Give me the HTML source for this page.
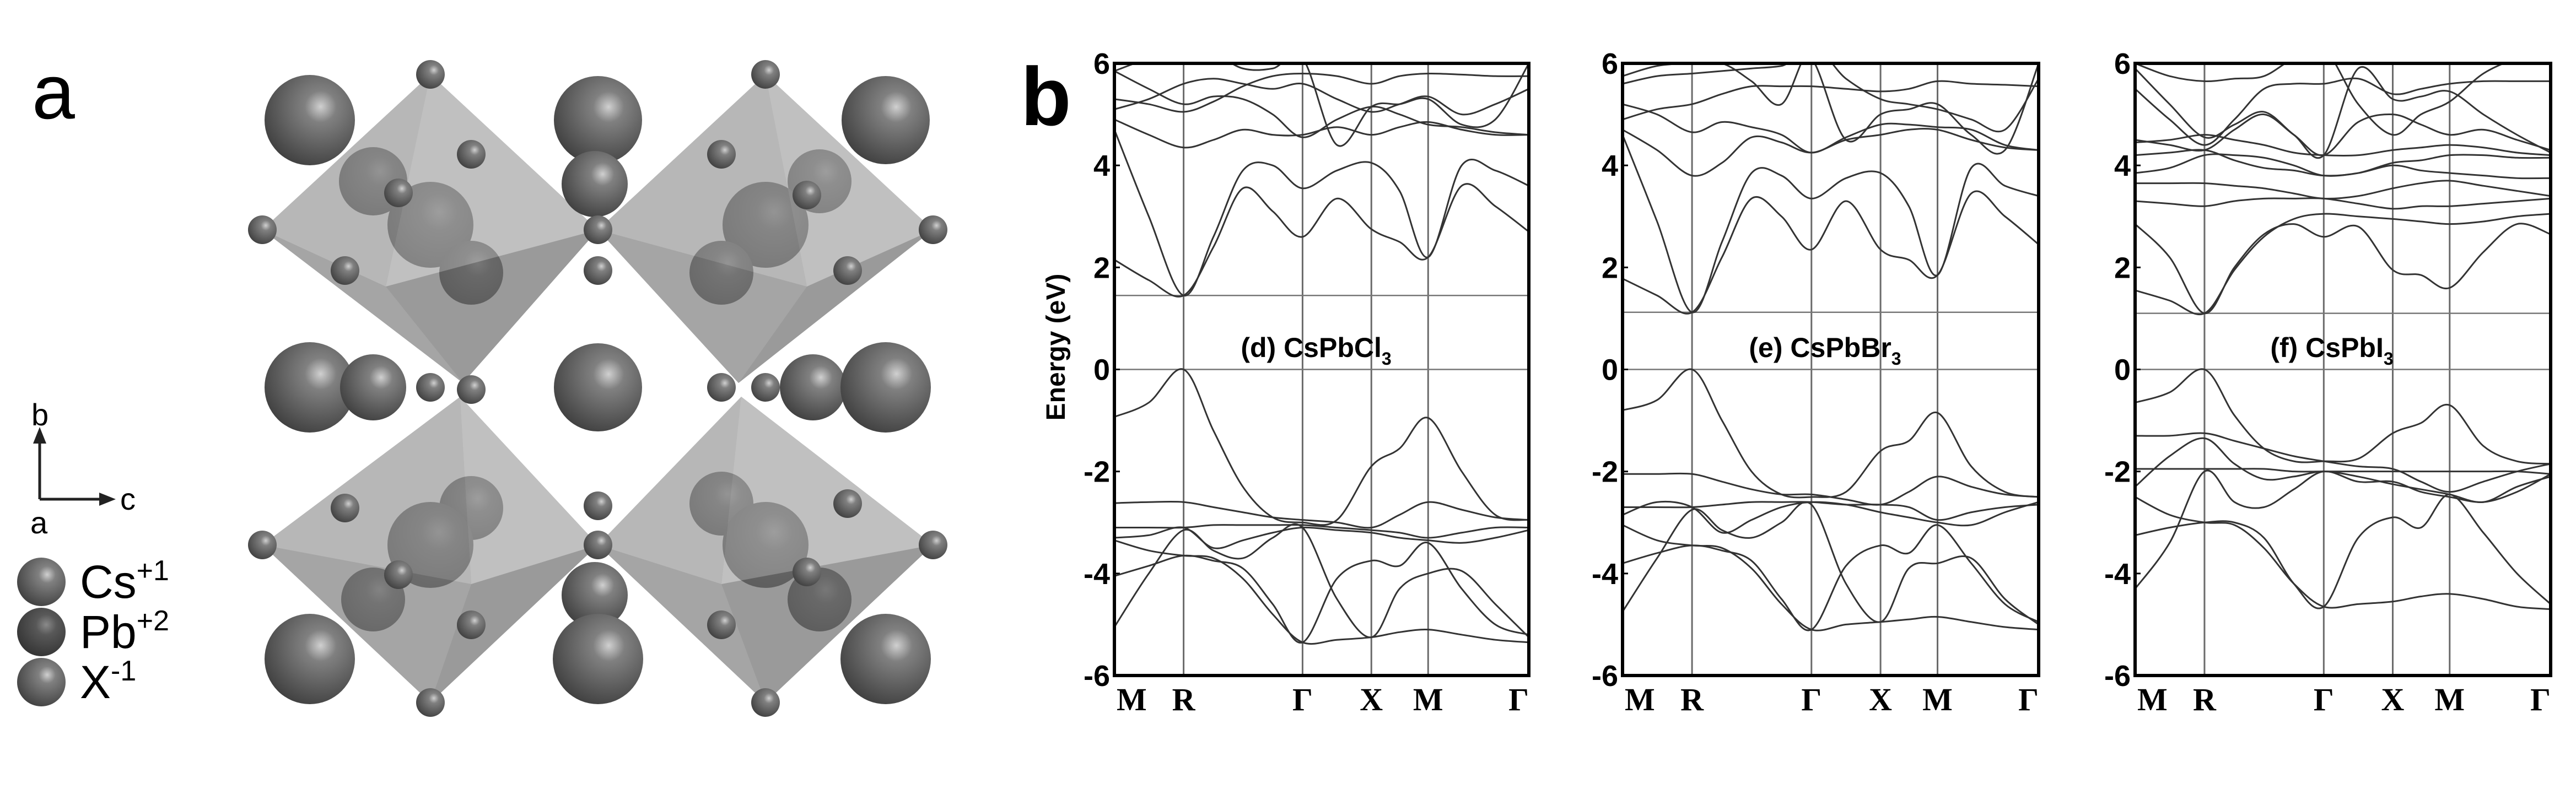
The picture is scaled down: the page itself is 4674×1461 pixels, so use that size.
<!DOCTYPE html>
<html><head><meta charset="utf-8"><style>
html,body{margin:0;padding:0;background:#fff;width:4674px;height:1461px;overflow:hidden}
svg{display:block}
.tick{font-family:"Liberation Sans",Arial,sans-serif;font-weight:bold;font-size:54px;fill:#000}
.kl{font-family:"Liberation Serif",serif;font-weight:bold;font-size:58px;fill:#000}
.pl{font-family:"Liberation Sans",Arial,sans-serif;font-weight:bold;font-size:50px;fill:#000}
</style></head><body>
<svg id="fig" width="4674" height="1461" viewBox="0 0 4674 1461" xmlns="http://www.w3.org/2000/svg">
<defs>
<radialGradient id="sph" cx="0.62" cy="0.35" r="0.7"><stop offset="0" stop-color="#d0d0d0"/><stop offset="0.25" stop-color="#808080"/><stop offset="1" stop-color="#404040"/></radialGradient>
<radialGradient id="sphd" cx="0.6" cy="0.35" r="0.7"><stop offset="0" stop-color="#8a8a8a"/><stop offset="0.3" stop-color="#585858"/><stop offset="1" stop-color="#333"/></radialGradient>
</defs>
<g id="structure"></g>
<text x="58" y="215" style="font-family:'Liberation Sans',sans-serif;font-size:140px">a</text>
<g stroke="#222" stroke-width="5" fill="#222">
<line x1="72" y1="906" x2="72" y2="800"/><polygon points="60,805 84,805 72,775" stroke="none"/>
<line x1="72" y1="906" x2="185" y2="906"/><polygon points="180,894 180,918 210,906" stroke="none"/>
</g>
<text x="57" y="772" style="font-family:'Liberation Sans',sans-serif;font-size:56px">b</text>
<text x="218" y="925" style="font-family:'Liberation Sans',sans-serif;font-size:56px">c</text>
<text x="55" y="968" style="font-family:'Liberation Sans',sans-serif;font-size:56px">a</text>
<g>
<circle cx="75" cy="1056" r="44" fill="url(#sph)"/><circle cx="75" cy="1147" r="44" fill="url(#sphd)"/><circle cx="75" cy="1238" r="44" fill="url(#sph)"/>
<text x="145" y="1085" style="font-family:'Liberation Sans',sans-serif;font-size:84px">Cs<tspan font-size="52" dy="-32">+1</tspan></text>
<text x="145" y="1176" style="font-family:'Liberation Sans',sans-serif;font-size:84px">Pb<tspan font-size="52" dy="-32">+2</tspan></text>
<text x="145" y="1267" style="font-family:'Liberation Sans',sans-serif;font-size:84px">X<tspan font-size="52" dy="-32">-1</tspan></text>
</g>
<text x="1852" y="227" style="font-family:'Liberation Sans',sans-serif;font-weight:bold;font-size:150px">b</text>
<text transform="translate(1932,630) rotate(-90)" text-anchor="middle" style="font-family:'Liberation Sans',sans-serif;font-weight:bold;font-size:48px">Energy (eV)</text>
<g id="charts"></g>
</svg>
<script>
// ---------- chart data ----------
var kLabels = ["M","R","Γ","X","M","Γ"];
var kTicks = [0, 0.167, 0.454, 0.62, 0.757, 1];
var kSamples = [0, 0.083, 0.167, 0.239, 0.31, 0.382, 0.454, 0.537, 0.62, 0.688, 0.757, 0.838, 0.919, 1];
var yTicks = [6, 4, 2, 0, -2, -4, -6];
var panelTitles = ["(d) CsPbCl", "(e) CsPbBr", "(f) CsPbI"];
var gapValues = [1.45, 1.12, 1.1];

var bandsD = [
[-0.93,-0.65,0,-1.2,-2.3,-2.9,-3.0,-2.95,-1.9,-1.55,-0.95,-2.0,-2.85,-2.95],
[-2.62,-2.6,-2.6,-2.7,-2.8,-2.9,-2.95,-3.0,-3.1,-2.85,-2.6,-2.75,-2.9,-2.95],
[-3.1,-3.1,-3.1,-3.05,-3.05,-3.05,-3.05,-3.1,-3.15,-3.2,-3.3,-3.2,-3.1,-3.1],
[-3.3,-3.25,-3.1,-3.5,-3.35,-3.2,-3.1,-3.15,-3.2,-3.3,-3.35,-3.4,-3.3,-3.15],
[-3.35,-3.55,-3.65,-3.7,-4.1,-4.8,-5.35,-5.3,-5.25,-5.15,-5.1,-5.2,-5.3,-5.35],
[-4.05,-3.85,-3.65,-3.75,-3.9,-4.6,-5.35,-4.1,-3.75,-3.85,-3.4,-4.3,-5.0,-5.2],
[-5.05,-4.0,-3.15,-3.55,-3.7,-3.3,-3.1,-4.5,-5.25,-4.3,-4.0,-3.95,-4.6,-5.25],
[2.15,1.75,1.45,2.4,3.55,3.1,2.6,3.35,2.75,2.5,2.2,3.6,3.2,2.7],
[4.7,3.0,1.45,2.6,3.9,4.0,3.55,3.9,4.05,3.5,2.2,4.0,3.9,3.6],
[4.9,4.6,4.35,4.5,4.7,4.6,4.6,4.75,4.6,4.75,4.85,4.7,4.6,4.6],
[5.3,5.2,5.05,5.25,5.55,5.75,5.8,5.75,5.6,5.75,5.8,5.78,5.75,5.75],
[5.85,5.5,5.2,5.35,5.3,5.0,4.55,4.9,5.15,5.0,4.8,4.75,4.65,4.6],
[5.85,6.1,6.3,6.2,5.9,5.9,6.1,4.4,5.15,5.2,5.3,4.8,4.9,6.0],
[5.1,5.3,5.6,5.7,5.6,5.5,5.6,5.3,5.05,5.2,5.35,5.0,5.2,5.5]
];
var bandsE = [
[-0.8,-0.6,0,-1.0,-2.0,-2.45,-2.5,-2.4,-1.6,-1.4,-0.85,-1.9,-2.4,-2.5],
[-2.05,-2.05,-2.05,-2.2,-2.35,-2.45,-2.45,-2.55,-2.65,-2.4,-2.1,-2.3,-2.45,-2.5],
[-2.7,-2.7,-2.7,-2.65,-2.6,-2.6,-2.6,-2.65,-2.65,-2.7,-2.95,-2.8,-2.7,-2.65],
[-2.85,-2.6,-2.7,-3.2,-2.95,-2.7,-2.6,-2.65,-2.8,-2.9,-3.0,-3.05,-2.8,-2.6],
[-3.05,-3.35,-3.45,-3.5,-3.9,-4.6,-5.1,-5.0,-4.95,-4.9,-4.85,-4.95,-5.05,-5.1],
[-3.8,-3.6,-3.45,-3.55,-3.75,-4.5,-5.1,-3.85,-3.45,-3.6,-3.05,-3.8,-4.6,-4.95],
[-4.75,-3.7,-2.75,-3.15,-3.3,-3.0,-2.65,-4.2,-4.95,-3.9,-3.8,-3.7,-4.5,-5.0],
[1.78,1.45,1.12,2.2,3.35,3.0,2.35,3.3,2.35,2.15,1.85,3.45,3.0,2.45],
[4.6,2.9,1.12,2.5,3.85,3.8,3.35,3.75,3.85,3.2,1.85,3.95,3.6,3.4],
[4.7,4.3,3.8,4.05,4.55,4.45,4.25,4.5,4.6,4.7,4.7,4.5,4.35,4.3],
[5.2,5.0,4.65,4.85,4.75,4.6,4.25,4.55,4.8,4.8,4.75,4.7,4.4,4.3],
[4.9,5.1,5.2,5.4,5.55,5.55,5.55,5.5,5.45,5.5,5.65,5.6,5.58,5.55],
[5.6,5.75,5.8,5.85,5.9,5.95,6.1,4.5,5.0,5.1,5.2,4.6,4.3,6.0],
[5.75,5.95,6.0,6.0,5.65,5.2,6.3,5.7,5.3,5.2,5.1,4.9,4.7,5.7]
];
var bandsF = [
[-0.65,-0.45,0,-0.9,-1.55,-1.8,-1.8,-1.75,-1.25,-1.05,-0.7,-1.5,-1.8,-1.85],
[-1.3,-1.3,-1.25,-1.4,-1.55,-1.7,-1.8,-1.9,-1.95,-2.2,-2.4,-2.2,-2.0,-1.85],
[-1.95,-1.95,-1.95,-1.95,-1.95,-2.0,-2.0,-2.0,-2.0,-2.0,-2.0,-2.0,-2.0,-2.05],
[-2.3,-1.7,-1.35,-1.85,-2.15,-2.1,-2.0,-2.1,-2.25,-2.35,-2.45,-2.6,-2.3,-2.1],
[-2.5,-2.85,-3.0,-3.05,-3.5,-4.2,-4.65,-4.6,-4.55,-4.45,-4.4,-4.5,-4.65,-4.7],
[-3.25,-3.1,-3.0,-3.0,-3.3,-4.2,-4.65,-3.3,-2.9,-3.1,-2.45,-3.2,-4.0,-4.6],
[-4.3,-3.4,-2.0,-2.6,-2.7,-2.35,-2.0,-2.2,-2.2,-2.4,-2.5,-2.6,-2.4,-2.05],
[1.55,1.35,1.1,1.95,2.6,2.95,3.05,3.0,2.95,2.9,2.85,2.9,3.0,3.05],
[2.85,2.2,1.1,2.0,2.65,2.85,2.6,2.8,1.95,1.85,1.6,2.3,2.85,2.65],
[3.3,3.25,3.2,3.3,3.35,3.35,3.35,3.25,3.15,3.2,3.2,3.25,3.3,3.35],
[3.65,3.65,3.65,3.6,3.55,3.45,3.35,3.4,3.55,3.65,3.7,3.6,3.5,3.4],
[3.85,3.95,4.2,4.2,4.15,4.0,3.8,3.85,4.0,3.9,3.85,3.8,3.75,3.75],
[4.2,4.25,4.3,4.1,3.95,3.9,3.8,3.85,4.05,4.1,4.2,4.2,4.15,4.15],
[4.45,4.5,4.6,4.5,4.4,4.25,4.2,4.2,4.3,4.35,4.4,4.35,4.25,4.2],
[4.5,4.4,4.3,4.7,5.0,4.6,4.2,4.85,5.0,4.8,4.6,4.7,4.5,4.3],
[5.5,4.9,4.4,4.9,5.5,5.6,5.6,5.7,5.4,5.5,5.6,5.65,5.65,5.65],
[5.9,5.2,4.55,4.8,5.05,4.6,4.2,5.9,5.3,5.35,5.45,5.0,4.6,4.25],
[6.0,5.75,5.65,5.7,5.75,6.1,6.3,5.2,4.6,5.0,5.25,5.8,6.1,6.3]
];
var allBands = [bandsD, bandsE, bandsF];

// ---------- layout ----------
var NS = "http://www.w3.org/2000/svg";
var frames = [{l:2022,r:2774},{l:2944,r:3699},{l:3874,r:4628}];
var TOP = 115, BOT = 1226, EMAX = 6, EMIN = -6;
function mk(tag, attrs, parent){var e=document.createElementNS(NS,tag);for(var k in attrs)e.setAttribute(k,attrs[k]);parent.appendChild(e);return e;}
function yScale(E){return TOP + (EMAX-E)/(EMAX-EMIN)*(BOT-TOP);}
function xScale(f,k){return f.l + k*(f.r-f.l);}

var charts = document.getElementById('charts');
var defs = document.querySelector('defs');
frames.forEach(function(f, pi){
  var g = mk('g', {}, charts);
  
  
  var cp = mk('clipPath', {id:'clip'+pi}, defs);
  mk('rect', {x:f.l, y:TOP, width:f.r-f.l, height:BOT-TOP}, cp);
  kTicks.forEach(function(k, i){
    if(i>0 && i<kTicks.length-1){
      var ln = mk('line', {x1:xScale(f,k), x2:xScale(f,k), y1:TOP, y2:BOT, stroke:'#6a6a6a', 'stroke-width':3}, g);
      
      
    }
    var tx = mk('text', {x:xScale(f,k) + (i==0?4:0), y:1289, 'class':'kl', 'text-anchor': i==0?'start':(i==kTicks.length-1?'end':'middle')}, g);
    tx.textContent = kLabels[i];
    
    
  });
  [0, gapValues[pi]].forEach(function(E){
    var hl = mk('line', {x1:f.l, x2:f.r, y1:yScale(E), y2:yScale(E), stroke:'#777', 'stroke-width':2.5}, g);
    
    
  });
  yTicks.forEach(function(v){
    var t = mk('text', {x:f.l-8, y:yScale(v)+19, 'class':'tick', 'text-anchor':'end'}, g);
    t.textContent = String(v);
    
    
    mk('line', {x1:f.l, x2:f.l+10, y1:yScale(v), y2:yScale(v), stroke:'#000', 'stroke-width':3}, g);
  });
  var bg = mk('g', {'clip-path':'url(#clip'+pi+')'}, g);
  allBands[pi].forEach(function(band){
    var pts = band.map(function(E, j){return [xScale(f,kSamples[j]), yScale(E)];});
    var d = 'M'+pts[0][0]+','+pts[0][1];
    for(var i=0;i<pts.length-1;i++){
      var p0=pts[Math.max(i-1,0)], p1=pts[i], p2=pts[i+1], p3=pts[Math.min(i+2,pts.length-1)];
      var c1=[p1[0]+(p2[0]-p0[0])/6, p1[1]+(p2[1]-p0[1])/6];
      var c2=[p2[0]-(p3[0]-p1[0])/6, p2[1]-(p3[1]-p1[1])/6];
      d += ' C'+c1[0]+','+c1[1]+' '+c2[0]+','+c2[1]+' '+p2[0]+','+p2[1];
    }
    var path = mk('path', {d:d, fill:'none', stroke:'#333', 'stroke-width':3}, bg);
    
    
  });
  var fr = mk('rect', {x:f.l, y:TOP, width:f.r-f.l, height:BOT-TOP, fill:'none', stroke:'#000', 'stroke-width':6}, g);
  
  
  var tt = mk('text', {x:(f.l+f.r)/2 - 10 + (pi==2?-10:0), y:648, 'class':'pl', 'text-anchor':'middle'}, g);
  tt.textContent = panelTitles[pi];
  var sub = mk('tspan', {'font-size':32, dy:14}, tt);
  sub.textContent = '3';
  
  
});

// ---------- crystal structure ----------
var S = document.getElementById('structure');
var octs = [
 {T:[781,135],B:[840,695],E:[[476,417],[855,280],[1085,417],[700,520]]},
 {T:[1389,135],B:[1340,695],E:[[1085,417],[1309,280],[1693,417],[1464,520]]},
 {T:[835,720],B:[781,1275],E:[[476,989],[626,922],[1085,989],[855,1060]]},
 {T:[1345,720],B:[1389,1275],E:[[1085,989],[1538,914],[1693,989],[1309,1060]]}
];
var inner = [[677,329,62],[781,408,78],[855,495,58],[1487,329,58],[1389,408,78],[1309,495,58],
 [855,922,58],[781,989,78],[677,1088,58],[1309,914,58],[1389,989,78],[1487,1088,58]];
inner.forEach(function(c){
  var s = mk('circle', {cx:c[0], cy:c[1], r:c[2], fill:'url(#sphd)'}, S);
  
  
});
octs.forEach(function(o){
  var og = mk('g', {opacity:0.7}, S);
  
  
  var shades = ['#b4b4b4','#c4c4c4','#a6a6a6','#999'];
  var dsh = ['#7c7c7c','#8a8a8a','#707070','#808080'];
  for(var i=0;i<4;i++){
    var a=o.E[i], b=o.E[(i+1)%4];
    mk('polygon', {points:[o.B,a,b].map(function(p){return p.join(',');}).join(' '), fill:dsh[i]}, og);
  }
  for(var i=0;i<4;i++){
    var a=o.E[i], b=o.E[(i+1)%4];
    mk('polygon', {points:[o.T,a,b].map(function(p){return p.join(',');}).join(' '), fill:shades[i]}, og);
  }
});
var cs = [[562,218,82],[1085,218,80],[1607,218,80],[1079,334,60],[562,703,82],[677,703,60],[1085,703,80],[1475,703,60],[1607,703,82],
 [1079,1080,60],[562,1196,82],[1085,1196,82],[1607,1196,82]];
cs.forEach(function(c){
  var s = mk('circle', {cx:c[0], cy:c[1], r:c[2], fill:'url(#sph)'}, S);
  
  
});
var xs = [[781,135],[1389,135],[476,417],[1085,417],[1693,417],[855,280],[1309,280],[626,491],[1085,491],[1538,491],[723,350],[1464,354],
 [781,703],[855,707],[1309,703],[1389,703],[626,922],[1085,918],[1538,914],[476,989],[1085,989],[1693,989],[723,1043],[1464,1038],
 [855,1134],[1309,1134],[781,1275],[1389,1275]];
xs.forEach(function(c){
  var s = mk('circle', {cx:c[0], cy:c[1], r:26, fill:'url(#sph)'}, S);
  
  
});
</script>
</body></html>
